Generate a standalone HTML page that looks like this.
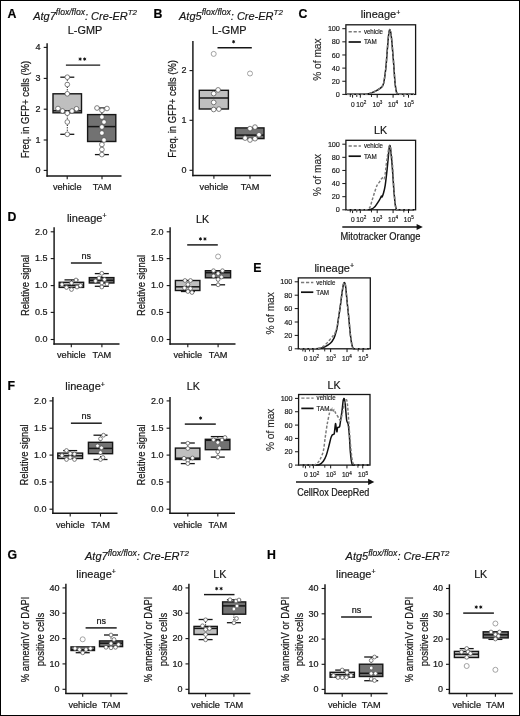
<!DOCTYPE html>
<html><head><meta charset="utf-8"><title>Figure</title>
<style>
html,body{margin:0;padding:0;background:#fff;}
body{width:520px;height:716px;overflow:hidden;}
svg{display:block;font-family:"Liberation Sans",sans-serif;filter:blur(0.35px);}
text{stroke:#1a1a1a;stroke-width:0.22px;}
text.sm{stroke-width:0.17px;}
text.tt{stroke-width:0.18px;}
text.md{stroke-width:0.15px;fill:#2a2a2a;}
</style></head>
<body>
<svg width="520" height="716" viewBox="0 0 520 716">
<rect x="0" y="0" width="520" height="716" fill="#fff"/>
<rect x="0.5" y="0.5" width="519" height="715" fill="none" stroke="#000" stroke-width="1"/>
<text x="7.6" y="17.6" font-size="12.3" text-anchor="start" fill="#000" font-weight="bold" >A</text>
<text class="tt" x="33.2" y="19.5" font-size="11" font-style="italic" fill="#161616">Atg7<tspan font-size="8.6" dy="-4.3">flox/flox</tspan><tspan dy="4.3">: Cre-ER</tspan><tspan font-size="7.9" dy="-4.3">T2</tspan></text>
<text x="85" y="33.5" font-size="10.9" text-anchor="middle" fill="#161616" class="tt">L-GMP</text>
<line x1="47.1" y1="43.2" x2="47.1" y2="176.65" stroke="#161616" stroke-width="1.45" />
<line x1="43.7" y1="47.4" x2="47.1" y2="47.4" stroke="#161616" stroke-width="1.1" />
<text x="40.6" y="50.1" font-size="9" text-anchor="end" fill="#161616" >4</text>
<line x1="43.7" y1="78.4" x2="47.1" y2="78.4" stroke="#161616" stroke-width="1.1" />
<text x="40.6" y="81.1" font-size="9" text-anchor="end" fill="#161616" >3</text>
<line x1="43.7" y1="109.2" x2="47.1" y2="109.2" stroke="#161616" stroke-width="1.1" />
<text x="40.6" y="111.9" font-size="9" text-anchor="end" fill="#161616" >2</text>
<line x1="43.7" y1="140" x2="47.1" y2="140" stroke="#161616" stroke-width="1.1" />
<text x="40.6" y="142.7" font-size="9" text-anchor="end" fill="#161616" >1</text>
<line x1="43.7" y1="170.4" x2="47.1" y2="170.4" stroke="#161616" stroke-width="1.1" />
<text x="40.6" y="173.1" font-size="9" text-anchor="end" fill="#161616" >0</text>
<line x1="46.45" y1="176" x2="121.5" y2="176" stroke="#161616" stroke-width="1.45" />
<line x1="67.2" y1="176" x2="67.2" y2="179.3" stroke="#161616" stroke-width="1.1" />
<text x="67.2" y="190.3" font-size="9.2" text-anchor="middle" fill="#161616" >vehicle</text>
<line x1="102" y1="176" x2="102" y2="179.3" stroke="#161616" stroke-width="1.1" />
<text x="102" y="190.3" font-size="9.2" text-anchor="middle" fill="#161616" >TAM</text>
<text transform="translate(29.4,109.6) rotate(-90)" x="0" y="0" font-size="10.2" text-anchor="middle" fill="#161616" textLength="97.5" lengthAdjust="spacingAndGlyphs">Freq. in GFP+ cells (%)</text>
<line x1="65.9" y1="65.1" x2="100.2" y2="65.1" stroke="#161616" stroke-width="1.45" />
<circle cx="80.15" cy="59.1" r="0.9" fill="#111"/>
<path d="M80.15,57.4 V60.8 M78.65,58.25 L81.65,59.95 M78.65,59.95 L81.65,58.25" stroke="#111" stroke-width="0.85" fill="none"/>
<circle cx="84.65" cy="59.1" r="0.9" fill="#111"/>
<path d="M84.65,57.4 V60.8 M83.15,58.25 L86.15,59.95 M83.15,59.95 L86.15,58.25" stroke="#111" stroke-width="0.85" fill="none"/>
<line x1="67.3" y1="77.2" x2="67.3" y2="93.8" stroke="#161616" stroke-width="1.0" stroke-dasharray="1.2,1.2" />
<line x1="60.3" y1="77.2" x2="74.3" y2="77.2" stroke="#161616" stroke-width="1.3" />
<line x1="67.3" y1="112.8" x2="67.3" y2="134.3" stroke="#161616" stroke-width="1.0" stroke-dasharray="1.2,1.2" />
<line x1="60.3" y1="134.3" x2="74.3" y2="134.3" stroke="#161616" stroke-width="1.3" />
<rect x="53" y="93.8" width="28.5" height="19" fill="#bfbfbf" stroke="#161616" stroke-width="1.4"/>
<line x1="53" y1="110.8" x2="81.5" y2="110.8" stroke="#161616" stroke-width="1.5" />
<circle cx="67.3" cy="77.2" r="2.35" fill="#fff" stroke="#555" stroke-width="0.75"/>
<circle cx="67.3" cy="84.5" r="2.35" fill="#fff" stroke="#555" stroke-width="0.75"/>
<circle cx="67.3" cy="93.8" r="2.35" fill="#fff" stroke="#555" stroke-width="0.75"/>
<circle cx="58" cy="108.5" r="2.35" fill="#fff" stroke="#555" stroke-width="0.75"/>
<circle cx="62.5" cy="111" r="2.35" fill="#fff" stroke="#555" stroke-width="0.75"/>
<circle cx="67.3" cy="113.2" r="2.35" fill="#fff" stroke="#555" stroke-width="0.75"/>
<circle cx="72" cy="111" r="2.35" fill="#fff" stroke="#555" stroke-width="0.75"/>
<circle cx="76.5" cy="108.8" r="2.35" fill="#fff" stroke="#555" stroke-width="0.75"/>
<circle cx="67.3" cy="122" r="2.35" fill="#fff" stroke="#555" stroke-width="0.75"/>
<circle cx="67.3" cy="134.3" r="2.35" fill="#fff" stroke="#555" stroke-width="0.75"/>
<line x1="101.9" y1="108" x2="101.9" y2="114.6" stroke="#161616" stroke-width="1.0" stroke-dasharray="1.2,1.2" />
<line x1="94.9" y1="108" x2="108.9" y2="108" stroke="#161616" stroke-width="1.3" />
<line x1="101.9" y1="141.5" x2="101.9" y2="154.6" stroke="#161616" stroke-width="1.0" stroke-dasharray="1.2,1.2" />
<line x1="94.9" y1="154.6" x2="108.9" y2="154.6" stroke="#161616" stroke-width="1.3" />
<rect x="87.6" y="114.6" width="28.2" height="26.9" fill="#727272" stroke="#161616" stroke-width="1.4"/>
<line x1="87.6" y1="126.6" x2="115.8" y2="126.6" stroke="#161616" stroke-width="1.5" />
<circle cx="97" cy="108" r="2.35" fill="#fff" stroke="#555" stroke-width="0.75"/>
<circle cx="102" cy="110.3" r="2.35" fill="#fff" stroke="#555" stroke-width="0.75"/>
<circle cx="107" cy="108.5" r="2.35" fill="#fff" stroke="#555" stroke-width="0.75"/>
<circle cx="101.9" cy="117" r="2.35" fill="#fff" stroke="#555" stroke-width="0.75"/>
<circle cx="104" cy="122" r="2.35" fill="#fff" stroke="#555" stroke-width="0.75"/>
<circle cx="101.9" cy="127" r="2.35" fill="#fff" stroke="#555" stroke-width="0.75"/>
<circle cx="101.9" cy="133" r="2.35" fill="#fff" stroke="#555" stroke-width="0.75"/>
<circle cx="104" cy="140" r="2.35" fill="#fff" stroke="#555" stroke-width="0.75"/>
<circle cx="101.9" cy="144.5" r="2.35" fill="#fff" stroke="#555" stroke-width="0.75"/>
<circle cx="101.9" cy="149.5" r="2.35" fill="#fff" stroke="#555" stroke-width="0.75"/>
<circle cx="101.9" cy="154.6" r="2.35" fill="#fff" stroke="#555" stroke-width="0.75"/>
<text x="153.6" y="17.6" font-size="12.3" text-anchor="start" fill="#000" font-weight="bold" >B</text>
<text class="tt" x="179" y="19.5" font-size="11" font-style="italic" fill="#161616">Atg5<tspan font-size="8.6" dy="-4.3">flox/flox</tspan><tspan dy="4.3">: Cre-ER</tspan><tspan font-size="7.9" dy="-4.3">T2</tspan></text>
<text x="229.3" y="33.5" font-size="10.9" text-anchor="middle" fill="#161616" class="tt">L-GMP</text>
<line x1="192.9" y1="41" x2="192.9" y2="176.15" stroke="#161616" stroke-width="1.45" />
<line x1="189.5" y1="70.6" x2="192.9" y2="70.6" stroke="#161616" stroke-width="1.1" />
<text x="186.4" y="73.3" font-size="9" text-anchor="end" fill="#161616" >2</text>
<line x1="189.5" y1="120.3" x2="192.9" y2="120.3" stroke="#161616" stroke-width="1.1" />
<text x="186.4" y="123" font-size="9" text-anchor="end" fill="#161616" >1</text>
<line x1="189.5" y1="170.3" x2="192.9" y2="170.3" stroke="#161616" stroke-width="1.1" />
<text x="186.4" y="173" font-size="9" text-anchor="end" fill="#161616" >0</text>
<line x1="192.25" y1="175.5" x2="271" y2="175.5" stroke="#161616" stroke-width="1.45" />
<line x1="213.9" y1="175.5" x2="213.9" y2="178.8" stroke="#161616" stroke-width="1.1" />
<text x="213.9" y="190.3" font-size="9.2" text-anchor="middle" fill="#161616" >vehicle</text>
<line x1="250" y1="175.5" x2="250" y2="178.8" stroke="#161616" stroke-width="1.1" />
<text x="250" y="190.3" font-size="9.2" text-anchor="middle" fill="#161616" >TAM</text>
<text transform="translate(175.9,108.9) rotate(-90)" x="0" y="0" font-size="10.2" text-anchor="middle" fill="#161616" textLength="97.5" lengthAdjust="spacingAndGlyphs">Freq. in GFP+ cells (%)</text>
<line x1="217.5" y1="47.7" x2="251.8" y2="47.7" stroke="#161616" stroke-width="1.45" />
<circle cx="233.6" cy="41.7" r="0.9" fill="#111"/>
<path d="M233.6,40 V43.4 M232.1,40.85 L235.1,42.55 M232.1,42.55 L235.1,40.85" stroke="#111" stroke-width="0.85" fill="none"/>
<rect x="199.3" y="90.3" width="29.1" height="18.7" fill="#bfbfbf" stroke="#161616" stroke-width="1.4"/>
<line x1="199.3" y1="98" x2="228.4" y2="98" stroke="#161616" stroke-width="1.5" />
<circle cx="213.7" cy="53.9" r="2.5" fill="none" stroke="#999" stroke-width="0.9"/>
<circle cx="218.1" cy="89.9" r="2.35" fill="#fff" stroke="#555" stroke-width="0.75"/>
<circle cx="213.7" cy="93.6" r="2.35" fill="#fff" stroke="#555" stroke-width="0.75"/>
<circle cx="213.7" cy="102.4" r="2.35" fill="#fff" stroke="#555" stroke-width="0.75"/>
<circle cx="213.7" cy="109.5" r="2.35" fill="#fff" stroke="#555" stroke-width="0.75"/>
<circle cx="218.9" cy="109.1" r="2.35" fill="#fff" stroke="#555" stroke-width="0.75"/>
<rect x="235.4" y="127.9" width="28.6" height="10.7" fill="#727272" stroke="#161616" stroke-width="1.4"/>
<line x1="235.4" y1="135.1" x2="264" y2="135.1" stroke="#161616" stroke-width="1.5" />
<circle cx="250" cy="73.5" r="2.5" fill="none" stroke="#999" stroke-width="0.9"/>
<circle cx="250" cy="128.6" r="2.35" fill="#fff" stroke="#555" stroke-width="0.75"/>
<circle cx="255" cy="127.1" r="2.35" fill="#fff" stroke="#555" stroke-width="0.75"/>
<circle cx="259" cy="134.8" r="2.35" fill="#fff" stroke="#555" stroke-width="0.75"/>
<circle cx="245.1" cy="138.1" r="2.35" fill="#fff" stroke="#555" stroke-width="0.75"/>
<circle cx="250" cy="140" r="2.35" fill="#fff" stroke="#555" stroke-width="0.75"/>
<circle cx="255" cy="138.7" r="2.35" fill="#fff" stroke="#555" stroke-width="0.75"/>
<text x="7.6" y="220.6" font-size="12.3" text-anchor="start" fill="#000" font-weight="bold" >D</text>
<text class="tt" x="86.7" y="222" font-size="11" text-anchor="middle" fill="#161616">lineage<tspan font-size="7" dy="-3.7">+</tspan></text>
<text x="202.5" y="222.5" font-size="10.7" text-anchor="middle" fill="#161616" class="tt">LK</text>
<line x1="54.1" y1="227.2" x2="54.1" y2="344.65" stroke="#161616" stroke-width="1.45" />
<line x1="50.7" y1="231.8" x2="54.1" y2="231.8" stroke="#161616" stroke-width="1.1" />
<text x="47.6" y="234.5" font-size="9" text-anchor="end" fill="#161616" >2.0</text>
<line x1="50.7" y1="258.6" x2="54.1" y2="258.6" stroke="#161616" stroke-width="1.1" />
<text x="47.6" y="261.3" font-size="9" text-anchor="end" fill="#161616" >1.5</text>
<line x1="50.7" y1="285.6" x2="54.1" y2="285.6" stroke="#161616" stroke-width="1.1" />
<text x="47.6" y="288.3" font-size="9" text-anchor="end" fill="#161616" >1.0</text>
<line x1="50.7" y1="312.4" x2="54.1" y2="312.4" stroke="#161616" stroke-width="1.1" />
<text x="47.6" y="315.1" font-size="9" text-anchor="end" fill="#161616" >0.5</text>
<line x1="50.7" y1="339.5" x2="54.1" y2="339.5" stroke="#161616" stroke-width="1.1" />
<text x="47.6" y="342.2" font-size="9" text-anchor="end" fill="#161616" >0.0</text>
<line x1="53.45" y1="344" x2="119.5" y2="344" stroke="#161616" stroke-width="1.45" />
<line x1="71.3" y1="344" x2="71.3" y2="347.3" stroke="#161616" stroke-width="1.1" />
<text x="71.3" y="358.2" font-size="9.2" text-anchor="middle" fill="#161616" >vehicle</text>
<line x1="101.9" y1="344" x2="101.9" y2="347.3" stroke="#161616" stroke-width="1.1" />
<text x="101.9" y="358.2" font-size="9.2" text-anchor="middle" fill="#161616" >TAM</text>
<text transform="translate(28.9,285.5) rotate(-90)" x="0" y="0" font-size="10.1" text-anchor="middle" fill="#161616" textLength="61" lengthAdjust="spacingAndGlyphs">Relative signal</text>
<line x1="170.1" y1="227.2" x2="170.1" y2="344.65" stroke="#161616" stroke-width="1.45" />
<line x1="166.7" y1="231.8" x2="170.1" y2="231.8" stroke="#161616" stroke-width="1.1" />
<text x="163.6" y="234.5" font-size="9" text-anchor="end" fill="#161616" >2.0</text>
<line x1="166.7" y1="258.6" x2="170.1" y2="258.6" stroke="#161616" stroke-width="1.1" />
<text x="163.6" y="261.3" font-size="9" text-anchor="end" fill="#161616" >1.5</text>
<line x1="166.7" y1="285.6" x2="170.1" y2="285.6" stroke="#161616" stroke-width="1.1" />
<text x="163.6" y="288.3" font-size="9" text-anchor="end" fill="#161616" >1.0</text>
<line x1="166.7" y1="312.4" x2="170.1" y2="312.4" stroke="#161616" stroke-width="1.1" />
<text x="163.6" y="315.1" font-size="9" text-anchor="end" fill="#161616" >0.5</text>
<line x1="166.7" y1="339.5" x2="170.1" y2="339.5" stroke="#161616" stroke-width="1.1" />
<text x="163.6" y="342.2" font-size="9" text-anchor="end" fill="#161616" >0.0</text>
<line x1="169.45" y1="344" x2="235.5" y2="344" stroke="#161616" stroke-width="1.45" />
<line x1="187.8" y1="344" x2="187.8" y2="347.3" stroke="#161616" stroke-width="1.1" />
<text x="187.8" y="358.2" font-size="9.2" text-anchor="middle" fill="#161616" >vehicle</text>
<line x1="218.1" y1="344" x2="218.1" y2="347.3" stroke="#161616" stroke-width="1.1" />
<text x="218.1" y="358.2" font-size="9.2" text-anchor="middle" fill="#161616" >TAM</text>
<text transform="translate(145,285.5) rotate(-90)" x="0" y="0" font-size="10.1" text-anchor="middle" fill="#161616" textLength="61" lengthAdjust="spacingAndGlyphs">Relative signal</text>
<line x1="70.9" y1="263" x2="101.8" y2="263" stroke="#161616" stroke-width="1.45" />
<text x="86.35" y="258.8" font-size="9" text-anchor="middle" fill="#161616" >ns</text>
<line x1="71.5" y1="279.9" x2="71.5" y2="282.3" stroke="#161616" stroke-width="1.0" stroke-dasharray="1.2,1.2" />
<line x1="64.5" y1="279.9" x2="78.5" y2="279.9" stroke="#161616" stroke-width="1.3" />
<rect x="59.2" y="282.3" width="24.4" height="5.1" fill="#bfbfbf" stroke="#161616" stroke-width="1.4"/>
<line x1="59.2" y1="285.3" x2="83.6" y2="285.3" stroke="#161616" stroke-width="1.5" />
<circle cx="76" cy="280" r="1.9" fill="#fff" stroke="#555" stroke-width="0.75"/>
<circle cx="71.5" cy="283" r="1.9" fill="#fff" stroke="#555" stroke-width="0.75"/>
<circle cx="62" cy="284.5" r="1.9" fill="#fff" stroke="#555" stroke-width="0.75"/>
<circle cx="66.5" cy="287.5" r="1.9" fill="#fff" stroke="#555" stroke-width="0.75"/>
<circle cx="71.5" cy="289.5" r="1.9" fill="#fff" stroke="#555" stroke-width="0.75"/>
<circle cx="77" cy="287" r="1.9" fill="#fff" stroke="#555" stroke-width="0.75"/>
<circle cx="80.5" cy="285.5" r="1.9" fill="#fff" stroke="#555" stroke-width="0.75"/>
<line x1="101.8" y1="273.6" x2="101.8" y2="277.6" stroke="#161616" stroke-width="1.0" stroke-dasharray="1.2,1.2" />
<line x1="94.8" y1="273.6" x2="108.8" y2="273.6" stroke="#161616" stroke-width="1.3" />
<line x1="101.8" y1="283" x2="101.8" y2="286.3" stroke="#161616" stroke-width="1.0" stroke-dasharray="1.2,1.2" />
<line x1="94.8" y1="286.3" x2="108.8" y2="286.3" stroke="#161616" stroke-width="1.3" />
<rect x="89.3" y="277.6" width="24.6" height="5.4" fill="#727272" stroke="#161616" stroke-width="1.4"/>
<line x1="89.3" y1="280.3" x2="113.9" y2="280.3" stroke="#161616" stroke-width="1.5" />
<circle cx="101.8" cy="273.3" r="1.9" fill="#fff" stroke="#555" stroke-width="0.75"/>
<circle cx="99" cy="278" r="1.9" fill="#fff" stroke="#555" stroke-width="0.75"/>
<circle cx="104.5" cy="279.5" r="1.9" fill="#fff" stroke="#555" stroke-width="0.75"/>
<circle cx="95.5" cy="281" r="1.9" fill="#fff" stroke="#555" stroke-width="0.75"/>
<circle cx="101.8" cy="283" r="1.9" fill="#fff" stroke="#555" stroke-width="0.75"/>
<circle cx="107" cy="284" r="1.9" fill="#fff" stroke="#555" stroke-width="0.75"/>
<circle cx="101.8" cy="287" r="1.9" fill="#fff" stroke="#555" stroke-width="0.75"/>
<line x1="187.2" y1="244.9" x2="217.8" y2="244.9" stroke="#161616" stroke-width="1.45" />
<circle cx="200.45" cy="238.9" r="0.9" fill="#111"/>
<path d="M200.45,237.2 V240.6 M198.95,238.05 L201.95,239.75 M198.95,239.75 L201.95,238.05" stroke="#111" stroke-width="0.85" fill="none"/>
<circle cx="204.95" cy="238.9" r="0.9" fill="#111"/>
<path d="M204.95,237.2 V240.6 M203.45,238.05 L206.45,239.75 M203.45,239.75 L206.45,238.05" stroke="#111" stroke-width="0.85" fill="none"/>
<line x1="187.9" y1="290.5" x2="187.9" y2="291.5" stroke="#161616" stroke-width="1.0" stroke-dasharray="1.2,1.2" />
<line x1="180.9" y1="291.5" x2="194.9" y2="291.5" stroke="#161616" stroke-width="1.3" />
<rect x="175.4" y="280.5" width="24.5" height="10" fill="#bfbfbf" stroke="#161616" stroke-width="1.4"/>
<line x1="175.4" y1="286.8" x2="199.9" y2="286.8" stroke="#161616" stroke-width="1.5" />
<circle cx="185" cy="280.5" r="1.9" fill="#fff" stroke="#555" stroke-width="0.75"/>
<circle cx="190.5" cy="280.5" r="1.9" fill="#fff" stroke="#555" stroke-width="0.75"/>
<circle cx="187.9" cy="284.5" r="1.9" fill="#fff" stroke="#555" stroke-width="0.75"/>
<circle cx="184.5" cy="288" r="1.9" fill="#fff" stroke="#555" stroke-width="0.75"/>
<circle cx="190.5" cy="288.5" r="1.9" fill="#fff" stroke="#555" stroke-width="0.75"/>
<circle cx="187.9" cy="291.5" r="1.9" fill="#fff" stroke="#555" stroke-width="0.75"/>
<circle cx="192" cy="292.5" r="1.9" fill="#fff" stroke="#555" stroke-width="0.75"/>
<line x1="218.1" y1="277.8" x2="218.1" y2="284.8" stroke="#161616" stroke-width="1.0" stroke-dasharray="1.2,1.2" />
<line x1="211.1" y1="284.8" x2="225.1" y2="284.8" stroke="#161616" stroke-width="1.3" />
<rect x="205.4" y="270.7" width="25.2" height="7.1" fill="#727272" stroke="#161616" stroke-width="1.4"/>
<line x1="205.4" y1="272.7" x2="230.6" y2="272.7" stroke="#161616" stroke-width="1.5" />
<circle cx="218.1" cy="256.5" r="2.5" fill="none" stroke="#999" stroke-width="0.9"/>
<circle cx="213.5" cy="270.7" r="1.9" fill="#fff" stroke="#555" stroke-width="0.75"/>
<circle cx="222.5" cy="270.7" r="1.9" fill="#fff" stroke="#555" stroke-width="0.75"/>
<circle cx="218.1" cy="273.5" r="1.9" fill="#fff" stroke="#555" stroke-width="0.75"/>
<circle cx="213.5" cy="276" r="1.9" fill="#fff" stroke="#555" stroke-width="0.75"/>
<circle cx="221.5" cy="277" r="1.9" fill="#fff" stroke="#555" stroke-width="0.75"/>
<circle cx="218.1" cy="279.5" r="1.9" fill="#fff" stroke="#555" stroke-width="0.75"/>
<circle cx="218.1" cy="284.8" r="1.9" fill="#fff" stroke="#555" stroke-width="0.75"/>
<text x="7.6" y="389.6" font-size="12.3" text-anchor="start" fill="#000" font-weight="bold" >F</text>
<text class="tt" x="85.1" y="390.4" font-size="11" text-anchor="middle" fill="#161616">lineage<tspan font-size="7" dy="-3.7">+</tspan></text>
<text x="193.3" y="390.2" font-size="10.7" text-anchor="middle" fill="#161616" class="tt">LK</text>
<line x1="52.9" y1="396.9" x2="52.9" y2="513.95" stroke="#161616" stroke-width="1.45" />
<line x1="49.5" y1="400.9" x2="52.9" y2="400.9" stroke="#161616" stroke-width="1.1" />
<text x="46.4" y="403.6" font-size="9" text-anchor="end" fill="#161616" >2.0</text>
<line x1="49.5" y1="428.2" x2="52.9" y2="428.2" stroke="#161616" stroke-width="1.1" />
<text x="46.4" y="430.9" font-size="9" text-anchor="end" fill="#161616" >1.5</text>
<line x1="49.5" y1="455.1" x2="52.9" y2="455.1" stroke="#161616" stroke-width="1.1" />
<text x="46.4" y="457.8" font-size="9" text-anchor="end" fill="#161616" >1.0</text>
<line x1="49.5" y1="482" x2="52.9" y2="482" stroke="#161616" stroke-width="1.1" />
<text x="46.4" y="484.7" font-size="9" text-anchor="end" fill="#161616" >0.5</text>
<line x1="49.5" y1="509.2" x2="52.9" y2="509.2" stroke="#161616" stroke-width="1.1" />
<text x="46.4" y="511.9" font-size="9" text-anchor="end" fill="#161616" >0.0</text>
<line x1="52.25" y1="513.3" x2="117.5" y2="513.3" stroke="#161616" stroke-width="1.45" />
<line x1="70.2" y1="513.3" x2="70.2" y2="516.6" stroke="#161616" stroke-width="1.1" />
<text x="70.2" y="527.9" font-size="9.2" text-anchor="middle" fill="#161616" >vehicle</text>
<line x1="100.5" y1="513.3" x2="100.5" y2="516.6" stroke="#161616" stroke-width="1.1" />
<text x="100.5" y="527.9" font-size="9.2" text-anchor="middle" fill="#161616" >TAM</text>
<text transform="translate(28.3,455) rotate(-90)" x="0" y="0" font-size="10.1" text-anchor="middle" fill="#161616" textLength="61" lengthAdjust="spacingAndGlyphs">Relative signal</text>
<line x1="170" y1="396.9" x2="170" y2="513.95" stroke="#161616" stroke-width="1.45" />
<line x1="166.6" y1="400.9" x2="170" y2="400.9" stroke="#161616" stroke-width="1.1" />
<text x="163.5" y="403.6" font-size="9" text-anchor="end" fill="#161616" >2.0</text>
<line x1="166.6" y1="428.2" x2="170" y2="428.2" stroke="#161616" stroke-width="1.1" />
<text x="163.5" y="430.9" font-size="9" text-anchor="end" fill="#161616" >1.5</text>
<line x1="166.6" y1="455.1" x2="170" y2="455.1" stroke="#161616" stroke-width="1.1" />
<text x="163.5" y="457.8" font-size="9" text-anchor="end" fill="#161616" >1.0</text>
<line x1="166.6" y1="482" x2="170" y2="482" stroke="#161616" stroke-width="1.1" />
<text x="163.5" y="484.7" font-size="9" text-anchor="end" fill="#161616" >0.5</text>
<line x1="166.6" y1="509.2" x2="170" y2="509.2" stroke="#161616" stroke-width="1.1" />
<text x="163.5" y="511.9" font-size="9" text-anchor="end" fill="#161616" >0.0</text>
<line x1="169.35" y1="513.3" x2="235" y2="513.3" stroke="#161616" stroke-width="1.45" />
<line x1="187.8" y1="513.3" x2="187.8" y2="516.6" stroke="#161616" stroke-width="1.1" />
<text x="187.8" y="527.9" font-size="9.2" text-anchor="middle" fill="#161616" >vehicle</text>
<line x1="217.8" y1="513.3" x2="217.8" y2="516.6" stroke="#161616" stroke-width="1.1" />
<text x="217.8" y="527.9" font-size="9.2" text-anchor="middle" fill="#161616" >TAM</text>
<text transform="translate(145,455) rotate(-90)" x="0" y="0" font-size="10.1" text-anchor="middle" fill="#161616" textLength="61" lengthAdjust="spacingAndGlyphs">Relative signal</text>
<line x1="70.9" y1="423.2" x2="101.8" y2="423.2" stroke="#161616" stroke-width="1.45" />
<text x="86.35" y="418.8" font-size="9" text-anchor="middle" fill="#161616" >ns</text>
<line x1="70.2" y1="450.6" x2="70.2" y2="453.1" stroke="#161616" stroke-width="1.0" stroke-dasharray="1.2,1.2" />
<line x1="63.2" y1="450.6" x2="77.2" y2="450.6" stroke="#161616" stroke-width="1.3" />
<rect x="57.8" y="453.1" width="24.8" height="5.4" fill="#bfbfbf" stroke="#161616" stroke-width="1.4"/>
<line x1="57.8" y1="455.8" x2="82.6" y2="455.8" stroke="#161616" stroke-width="1.5" />
<circle cx="66.5" cy="450.5" r="1.9" fill="#fff" stroke="#555" stroke-width="0.75"/>
<circle cx="70.2" cy="453.5" r="1.9" fill="#fff" stroke="#555" stroke-width="0.75"/>
<circle cx="74.5" cy="454" r="1.9" fill="#fff" stroke="#555" stroke-width="0.75"/>
<circle cx="62" cy="455.5" r="1.9" fill="#fff" stroke="#555" stroke-width="0.75"/>
<circle cx="70.2" cy="457.5" r="1.9" fill="#fff" stroke="#555" stroke-width="0.75"/>
<circle cx="66.5" cy="459.5" r="1.9" fill="#fff" stroke="#555" stroke-width="0.75"/>
<circle cx="74.5" cy="459.5" r="1.9" fill="#fff" stroke="#555" stroke-width="0.75"/>
<line x1="100.5" y1="435.2" x2="100.5" y2="442.3" stroke="#161616" stroke-width="1.0" stroke-dasharray="1.2,1.2" />
<line x1="93.5" y1="435.2" x2="107.5" y2="435.2" stroke="#161616" stroke-width="1.3" />
<line x1="100.5" y1="453.7" x2="100.5" y2="459.5" stroke="#161616" stroke-width="1.0" stroke-dasharray="1.2,1.2" />
<line x1="93.5" y1="459.5" x2="107.5" y2="459.5" stroke="#161616" stroke-width="1.3" />
<rect x="88.4" y="442.3" width="24.2" height="11.4" fill="#727272" stroke="#161616" stroke-width="1.4"/>
<line x1="88.4" y1="448.4" x2="112.6" y2="448.4" stroke="#161616" stroke-width="1.5" />
<circle cx="103.5" cy="435.2" r="1.9" fill="#fff" stroke="#555" stroke-width="0.75"/>
<circle cx="100.5" cy="438.8" r="1.9" fill="#fff" stroke="#555" stroke-width="0.75"/>
<circle cx="97.5" cy="445.8" r="1.9" fill="#fff" stroke="#555" stroke-width="0.75"/>
<circle cx="101.5" cy="447.8" r="1.9" fill="#fff" stroke="#555" stroke-width="0.75"/>
<circle cx="100.5" cy="452.5" r="1.9" fill="#fff" stroke="#555" stroke-width="0.75"/>
<circle cx="100.5" cy="459.5" r="1.9" fill="#fff" stroke="#555" stroke-width="0.75"/>
<circle cx="103" cy="457.5" r="1.9" fill="#fff" stroke="#555" stroke-width="0.75"/>
<line x1="184.8" y1="424.1" x2="215.8" y2="424.1" stroke="#161616" stroke-width="1.45" />
<circle cx="200.6" cy="418.1" r="0.9" fill="#111"/>
<path d="M200.6,416.4 V419.8 M199.1,417.25 L202.1,418.95 M199.1,418.95 L202.1,417.25" stroke="#111" stroke-width="0.85" fill="none"/>
<line x1="187.8" y1="443" x2="187.8" y2="448.1" stroke="#161616" stroke-width="1.0" stroke-dasharray="1.2,1.2" />
<line x1="180.8" y1="443" x2="194.8" y2="443" stroke="#161616" stroke-width="1.3" />
<line x1="187.8" y1="459.5" x2="187.8" y2="463.6" stroke="#161616" stroke-width="1.0" stroke-dasharray="1.2,1.2" />
<line x1="180.8" y1="463.6" x2="194.8" y2="463.6" stroke="#161616" stroke-width="1.3" />
<rect x="175.4" y="448.1" width="24.5" height="11.4" fill="#bfbfbf" stroke="#161616" stroke-width="1.4"/>
<line x1="175.4" y1="458.2" x2="199.9" y2="458.2" stroke="#161616" stroke-width="1.5" />
<circle cx="187.8" cy="443.2" r="1.9" fill="#fff" stroke="#555" stroke-width="0.75"/>
<circle cx="187.8" cy="448.5" r="1.9" fill="#fff" stroke="#555" stroke-width="0.75"/>
<circle cx="184" cy="458.3" r="1.9" fill="#fff" stroke="#555" stroke-width="0.75"/>
<circle cx="187.8" cy="460.5" r="1.9" fill="#fff" stroke="#555" stroke-width="0.75"/>
<circle cx="192.5" cy="458" r="1.9" fill="#fff" stroke="#555" stroke-width="0.75"/>
<circle cx="187.8" cy="463.6" r="1.9" fill="#fff" stroke="#555" stroke-width="0.75"/>
<line x1="217.8" y1="436.6" x2="217.8" y2="439.3" stroke="#161616" stroke-width="1.0" stroke-dasharray="1.2,1.2" />
<line x1="210.8" y1="436.6" x2="224.8" y2="436.6" stroke="#161616" stroke-width="1.3" />
<line x1="217.8" y1="449.7" x2="217.8" y2="457.1" stroke="#161616" stroke-width="1.0" stroke-dasharray="1.2,1.2" />
<line x1="210.8" y1="457.1" x2="224.8" y2="457.1" stroke="#161616" stroke-width="1.3" />
<rect x="205.3" y="439.3" width="24.6" height="10.4" fill="#727272" stroke="#161616" stroke-width="1.4"/>
<line x1="205.3" y1="440.3" x2="229.9" y2="440.3" stroke="#161616" stroke-width="1.5" />
<circle cx="213.5" cy="439.8" r="1.9" fill="#fff" stroke="#555" stroke-width="0.75"/>
<circle cx="217.8" cy="442.5" r="1.9" fill="#fff" stroke="#555" stroke-width="0.75"/>
<circle cx="222" cy="440" r="1.9" fill="#fff" stroke="#555" stroke-width="0.75"/>
<circle cx="225" cy="437.5" r="1.9" fill="#fff" stroke="#555" stroke-width="0.75"/>
<circle cx="219.5" cy="448" r="1.9" fill="#fff" stroke="#555" stroke-width="0.75"/>
<circle cx="217.8" cy="451.8" r="1.9" fill="#fff" stroke="#555" stroke-width="0.75"/>
<circle cx="217.8" cy="457.1" r="1.9" fill="#fff" stroke="#555" stroke-width="0.75"/>
<text x="7.6" y="559.4" font-size="12.3" text-anchor="start" fill="#000" font-weight="bold" >G</text>
<text class="tt" x="85" y="560.4" font-size="11" font-style="italic" fill="#161616">Atg7<tspan font-size="8.6" dy="-4.3">flox/flox</tspan><tspan dy="4.3">: Cre-ER</tspan><tspan font-size="7.9" dy="-4.3">T2</tspan></text>
<text class="tt" x="96.1" y="578" font-size="11" text-anchor="middle" fill="#161616">lineage<tspan font-size="7" dy="-3.7">+</tspan></text>
<text x="219.8" y="577.8" font-size="10.7" text-anchor="middle" fill="#161616" class="tt">LK</text>
<line x1="65.9" y1="583.8" x2="65.9" y2="694.05" stroke="#161616" stroke-width="1.45" />
<line x1="62.5" y1="587.9" x2="65.9" y2="587.9" stroke="#161616" stroke-width="1.1" />
<text x="59.4" y="590.6" font-size="9" text-anchor="end" fill="#161616" >40</text>
<line x1="62.5" y1="613.2" x2="65.9" y2="613.2" stroke="#161616" stroke-width="1.1" />
<text x="59.4" y="615.9" font-size="9" text-anchor="end" fill="#161616" >30</text>
<line x1="62.5" y1="638.6" x2="65.9" y2="638.6" stroke="#161616" stroke-width="1.1" />
<text x="59.4" y="641.3" font-size="9" text-anchor="end" fill="#161616" >20</text>
<line x1="62.5" y1="663.9" x2="65.9" y2="663.9" stroke="#161616" stroke-width="1.1" />
<text x="59.4" y="666.6" font-size="9" text-anchor="end" fill="#161616" >10</text>
<line x1="62.5" y1="689.3" x2="65.9" y2="689.3" stroke="#161616" stroke-width="1.1" />
<text x="59.4" y="692" font-size="9" text-anchor="end" fill="#161616" >0</text>
<line x1="65.25" y1="693.4" x2="127.5" y2="693.4" stroke="#161616" stroke-width="1.45" />
<line x1="82.7" y1="693.4" x2="82.7" y2="696.7" stroke="#161616" stroke-width="1.1" />
<text x="82.7" y="708.4" font-size="9.2" text-anchor="middle" fill="#161616" >vehicle</text>
<line x1="111" y1="693.4" x2="111" y2="696.7" stroke="#161616" stroke-width="1.1" />
<text x="111" y="708.4" font-size="9.2" text-anchor="middle" fill="#161616" >TAM</text>
<text transform="translate(29.4,639.5) rotate(-90)" x="0" y="0" font-size="10.1" text-anchor="middle" fill="#161616" textLength="85.5" lengthAdjust="spacingAndGlyphs">% annexinV or DAPI</text>
<text transform="translate(44.2,639.5) rotate(-90)" x="0" y="0" font-size="10.1" text-anchor="middle" fill="#161616" textLength="53.5" lengthAdjust="spacingAndGlyphs">positive cells</text>
<line x1="188.9" y1="583.8" x2="188.9" y2="694.05" stroke="#161616" stroke-width="1.45" />
<line x1="185.5" y1="587.9" x2="188.9" y2="587.9" stroke="#161616" stroke-width="1.1" />
<text x="182.4" y="590.6" font-size="9" text-anchor="end" fill="#161616" >40</text>
<line x1="185.5" y1="613.2" x2="188.9" y2="613.2" stroke="#161616" stroke-width="1.1" />
<text x="182.4" y="615.9" font-size="9" text-anchor="end" fill="#161616" >30</text>
<line x1="185.5" y1="638.6" x2="188.9" y2="638.6" stroke="#161616" stroke-width="1.1" />
<text x="182.4" y="641.3" font-size="9" text-anchor="end" fill="#161616" >20</text>
<line x1="185.5" y1="663.9" x2="188.9" y2="663.9" stroke="#161616" stroke-width="1.1" />
<text x="182.4" y="666.6" font-size="9" text-anchor="end" fill="#161616" >10</text>
<line x1="185.5" y1="689.3" x2="188.9" y2="689.3" stroke="#161616" stroke-width="1.1" />
<text x="182.4" y="692" font-size="9" text-anchor="end" fill="#161616" >0</text>
<line x1="188.25" y1="693.4" x2="250.4" y2="693.4" stroke="#161616" stroke-width="1.45" />
<line x1="205.6" y1="693.4" x2="205.6" y2="696.7" stroke="#161616" stroke-width="1.1" />
<text x="205.6" y="708.4" font-size="9.2" text-anchor="middle" fill="#161616" >vehicle</text>
<line x1="233.9" y1="693.4" x2="233.9" y2="696.7" stroke="#161616" stroke-width="1.1" />
<text x="233.9" y="708.4" font-size="9.2" text-anchor="middle" fill="#161616" >TAM</text>
<text transform="translate(152.4,639.5) rotate(-90)" x="0" y="0" font-size="10.1" text-anchor="middle" fill="#161616" textLength="85.5" lengthAdjust="spacingAndGlyphs">% annexinV or DAPI</text>
<text transform="translate(167,639.5) rotate(-90)" x="0" y="0" font-size="10.1" text-anchor="middle" fill="#161616" textLength="53.5" lengthAdjust="spacingAndGlyphs">positive cells</text>
<line x1="85.6" y1="627.9" x2="116.7" y2="627.9" stroke="#161616" stroke-width="1.45" />
<text x="101.15" y="623.6" font-size="9" text-anchor="middle" fill="#161616" >ns</text>
<line x1="82.7" y1="650.5" x2="82.7" y2="652.7" stroke="#161616" stroke-width="1.0" stroke-dasharray="1.2,1.2" />
<line x1="75.7" y1="652.7" x2="89.7" y2="652.7" stroke="#161616" stroke-width="1.3" />
<rect x="71" y="646.9" width="23.5" height="3.6" fill="#bfbfbf" stroke="#161616" stroke-width="1.4"/>
<line x1="71" y1="649.4" x2="94.5" y2="649.4" stroke="#161616" stroke-width="1.5" />
<circle cx="82.7" cy="639.3" r="2.5" fill="none" stroke="#999" stroke-width="0.9"/>
<circle cx="75" cy="648.5" r="1.9" fill="#fff" stroke="#555" stroke-width="0.75"/>
<circle cx="79.5" cy="649.5" r="1.9" fill="#fff" stroke="#555" stroke-width="0.75"/>
<circle cx="86" cy="649.5" r="1.9" fill="#fff" stroke="#555" stroke-width="0.75"/>
<circle cx="90.5" cy="648.5" r="1.9" fill="#fff" stroke="#555" stroke-width="0.75"/>
<circle cx="82.7" cy="652.8" r="1.9" fill="#fff" stroke="#555" stroke-width="0.75"/>
<line x1="111" y1="635" x2="111" y2="640.9" stroke="#161616" stroke-width="1.0" stroke-dasharray="1.2,1.2" />
<line x1="104" y1="635" x2="118" y2="635" stroke="#161616" stroke-width="1.3" />
<rect x="99.5" y="640.9" width="23.1" height="5.7" fill="#727272" stroke="#161616" stroke-width="1.4"/>
<line x1="99.5" y1="643.2" x2="122.6" y2="643.2" stroke="#161616" stroke-width="1.5" />
<circle cx="111" cy="635" r="1.9" fill="#fff" stroke="#555" stroke-width="0.75"/>
<circle cx="114" cy="639.5" r="1.9" fill="#fff" stroke="#555" stroke-width="0.75"/>
<circle cx="111" cy="643.5" r="1.9" fill="#fff" stroke="#555" stroke-width="0.75"/>
<circle cx="118.5" cy="644.5" r="1.9" fill="#fff" stroke="#555" stroke-width="0.75"/>
<circle cx="106" cy="647.3" r="1.9" fill="#fff" stroke="#555" stroke-width="0.75"/>
<circle cx="111" cy="647.8" r="1.9" fill="#fff" stroke="#555" stroke-width="0.75"/>
<circle cx="115.5" cy="647.3" r="1.9" fill="#fff" stroke="#555" stroke-width="0.75"/>
<line x1="204" y1="594.6" x2="234.5" y2="594.6" stroke="#161616" stroke-width="1.45" />
<circle cx="216.65" cy="588.6" r="0.9" fill="#111"/>
<path d="M216.65,586.9 V590.3 M215.15,587.75 L218.15,589.45 M215.15,589.45 L218.15,587.75" stroke="#111" stroke-width="0.85" fill="none"/>
<circle cx="221.15" cy="588.6" r="0.9" fill="#111"/>
<path d="M221.15,586.9 V590.3 M219.65,587.75 L222.65,589.45 M219.65,589.45 L222.65,587.75" stroke="#111" stroke-width="0.85" fill="none"/>
<line x1="205.6" y1="619.5" x2="205.6" y2="626.4" stroke="#161616" stroke-width="1.0" stroke-dasharray="1.2,1.2" />
<line x1="198.6" y1="619.5" x2="212.6" y2="619.5" stroke="#161616" stroke-width="1.3" />
<line x1="205.6" y1="634.5" x2="205.6" y2="639.6" stroke="#161616" stroke-width="1.0" stroke-dasharray="1.2,1.2" />
<line x1="198.6" y1="639.6" x2="212.6" y2="639.6" stroke="#161616" stroke-width="1.3" />
<rect x="194" y="626.4" width="23.3" height="8.1" fill="#bfbfbf" stroke="#161616" stroke-width="1.4"/>
<line x1="194" y1="628.4" x2="217.3" y2="628.4" stroke="#161616" stroke-width="1.5" />
<circle cx="205.6" cy="619.8" r="1.9" fill="#fff" stroke="#555" stroke-width="0.75"/>
<circle cx="202.5" cy="625.8" r="1.9" fill="#fff" stroke="#555" stroke-width="0.75"/>
<circle cx="205.6" cy="629.5" r="1.9" fill="#fff" stroke="#555" stroke-width="0.75"/>
<circle cx="209.5" cy="628.5" r="1.9" fill="#fff" stroke="#555" stroke-width="0.75"/>
<circle cx="205.6" cy="634.5" r="1.9" fill="#fff" stroke="#555" stroke-width="0.75"/>
<circle cx="205.6" cy="639.8" r="1.9" fill="#fff" stroke="#555" stroke-width="0.75"/>
<line x1="233.9" y1="599.8" x2="233.9" y2="601.9" stroke="#161616" stroke-width="1.0" stroke-dasharray="1.2,1.2" />
<line x1="226.9" y1="599.8" x2="240.9" y2="599.8" stroke="#161616" stroke-width="1.3" />
<line x1="233.9" y1="614.2" x2="233.9" y2="622.7" stroke="#161616" stroke-width="1.0" stroke-dasharray="1.2,1.2" />
<line x1="226.9" y1="622.7" x2="240.9" y2="622.7" stroke="#161616" stroke-width="1.3" />
<rect x="222.6" y="601.9" width="23.1" height="12.3" fill="#727272" stroke="#161616" stroke-width="1.4"/>
<line x1="222.6" y1="605.9" x2="245.7" y2="605.9" stroke="#161616" stroke-width="1.5" />
<circle cx="230" cy="599.8" r="1.9" fill="#fff" stroke="#555" stroke-width="0.75"/>
<circle cx="236" cy="601" r="1.9" fill="#fff" stroke="#555" stroke-width="0.75"/>
<circle cx="239" cy="600" r="1.9" fill="#fff" stroke="#555" stroke-width="0.75"/>
<circle cx="237" cy="606" r="1.9" fill="#fff" stroke="#555" stroke-width="0.75"/>
<circle cx="233.9" cy="609" r="1.9" fill="#fff" stroke="#555" stroke-width="0.75"/>
<circle cx="236.5" cy="618.5" r="1.9" fill="#fff" stroke="#555" stroke-width="0.75"/>
<circle cx="233.9" cy="622.8" r="1.9" fill="#fff" stroke="#555" stroke-width="0.75"/>
<text x="267" y="558.9" font-size="12.3" text-anchor="start" fill="#000" font-weight="bold" >H</text>
<text class="tt" x="345.6" y="560.4" font-size="11" font-style="italic" fill="#161616">Atg5<tspan font-size="8.6" dy="-4.3">flox/flox</tspan><tspan dy="4.3">: Cre-ER</tspan><tspan font-size="7.9" dy="-4.3">T2</tspan></text>
<text class="tt" x="355.8" y="578" font-size="11" text-anchor="middle" fill="#161616">lineage<tspan font-size="7" dy="-3.7">+</tspan></text>
<text x="480.7" y="577.8" font-size="10.7" text-anchor="middle" fill="#161616" class="tt">LK</text>
<line x1="325" y1="584.3" x2="325" y2="694.05" stroke="#161616" stroke-width="1.45" />
<line x1="321.6" y1="588.5" x2="325" y2="588.5" stroke="#161616" stroke-width="1.1" />
<text x="318.5" y="591.2" font-size="9" text-anchor="end" fill="#161616" >40</text>
<line x1="321.6" y1="613.8" x2="325" y2="613.8" stroke="#161616" stroke-width="1.1" />
<text x="318.5" y="616.5" font-size="9" text-anchor="end" fill="#161616" >30</text>
<line x1="321.6" y1="639.1" x2="325" y2="639.1" stroke="#161616" stroke-width="1.1" />
<text x="318.5" y="641.8" font-size="9" text-anchor="end" fill="#161616" >20</text>
<line x1="321.6" y1="664.3" x2="325" y2="664.3" stroke="#161616" stroke-width="1.1" />
<text x="318.5" y="667" font-size="9" text-anchor="end" fill="#161616" >10</text>
<line x1="321.6" y1="689.4" x2="325" y2="689.4" stroke="#161616" stroke-width="1.1" />
<text x="318.5" y="692.1" font-size="9" text-anchor="end" fill="#161616" >0</text>
<line x1="324.35" y1="693.4" x2="387.6" y2="693.4" stroke="#161616" stroke-width="1.45" />
<line x1="342.2" y1="693.4" x2="342.2" y2="696.7" stroke="#161616" stroke-width="1.1" />
<text x="342.2" y="708.4" font-size="9.2" text-anchor="middle" fill="#161616" >vehicle</text>
<line x1="371.2" y1="693.4" x2="371.2" y2="696.7" stroke="#161616" stroke-width="1.1" />
<text x="371.2" y="708.4" font-size="9.2" text-anchor="middle" fill="#161616" >TAM</text>
<text transform="translate(288.6,639.5) rotate(-90)" x="0" y="0" font-size="10.1" text-anchor="middle" fill="#161616" textLength="85.5" lengthAdjust="spacingAndGlyphs">% annexinV or DAPI</text>
<text transform="translate(303.4,639.5) rotate(-90)" x="0" y="0" font-size="10.1" text-anchor="middle" fill="#161616" textLength="53.5" lengthAdjust="spacingAndGlyphs">positive cells</text>
<line x1="449.4" y1="584.3" x2="449.4" y2="694.05" stroke="#161616" stroke-width="1.45" />
<line x1="446" y1="588.5" x2="449.4" y2="588.5" stroke="#161616" stroke-width="1.1" />
<text x="442.9" y="591.2" font-size="9" text-anchor="end" fill="#161616" >40</text>
<line x1="446" y1="613.8" x2="449.4" y2="613.8" stroke="#161616" stroke-width="1.1" />
<text x="442.9" y="616.5" font-size="9" text-anchor="end" fill="#161616" >30</text>
<line x1="446" y1="639.1" x2="449.4" y2="639.1" stroke="#161616" stroke-width="1.1" />
<text x="442.9" y="641.8" font-size="9" text-anchor="end" fill="#161616" >20</text>
<line x1="446" y1="664.3" x2="449.4" y2="664.3" stroke="#161616" stroke-width="1.1" />
<text x="442.9" y="667" font-size="9" text-anchor="end" fill="#161616" >10</text>
<line x1="446" y1="689.4" x2="449.4" y2="689.4" stroke="#161616" stroke-width="1.1" />
<text x="442.9" y="692.1" font-size="9" text-anchor="end" fill="#161616" >0</text>
<line x1="448.75" y1="693.4" x2="512.8" y2="693.4" stroke="#161616" stroke-width="1.45" />
<line x1="466.7" y1="693.4" x2="466.7" y2="696.7" stroke="#161616" stroke-width="1.1" />
<text x="466.7" y="708.4" font-size="9.2" text-anchor="middle" fill="#161616" >vehicle</text>
<line x1="495.4" y1="693.4" x2="495.4" y2="696.7" stroke="#161616" stroke-width="1.1" />
<text x="495.4" y="708.4" font-size="9.2" text-anchor="middle" fill="#161616" >TAM</text>
<text transform="translate(413.2,639.5) rotate(-90)" x="0" y="0" font-size="10.1" text-anchor="middle" fill="#161616" textLength="85.5" lengthAdjust="spacingAndGlyphs">% annexinV or DAPI</text>
<text transform="translate(428,639.5) rotate(-90)" x="0" y="0" font-size="10.1" text-anchor="middle" fill="#161616" textLength="53.5" lengthAdjust="spacingAndGlyphs">positive cells</text>
<line x1="341.1" y1="617" x2="371.9" y2="617" stroke="#161616" stroke-width="1.45" />
<text x="356.5" y="613" font-size="9" text-anchor="middle" fill="#161616" >ns</text>
<line x1="342.2" y1="670.1" x2="342.2" y2="672.3" stroke="#161616" stroke-width="1.0" stroke-dasharray="1.2,1.2" />
<line x1="335.2" y1="670.1" x2="349.2" y2="670.1" stroke="#161616" stroke-width="1.3" />
<rect x="330.1" y="672.3" width="24.3" height="4.9" fill="#bfbfbf" stroke="#161616" stroke-width="1.4"/>
<line x1="330.1" y1="674.7" x2="354.4" y2="674.7" stroke="#161616" stroke-width="1.5" />
<circle cx="342.2" cy="670" r="1.9" fill="#fff" stroke="#555" stroke-width="0.75"/>
<circle cx="347" cy="672.5" r="1.9" fill="#fff" stroke="#555" stroke-width="0.75"/>
<circle cx="333.5" cy="675.5" r="1.9" fill="#fff" stroke="#555" stroke-width="0.75"/>
<circle cx="338" cy="677.5" r="1.9" fill="#fff" stroke="#555" stroke-width="0.75"/>
<circle cx="342.2" cy="677.5" r="1.9" fill="#fff" stroke="#555" stroke-width="0.75"/>
<circle cx="346.5" cy="677.5" r="1.9" fill="#fff" stroke="#555" stroke-width="0.75"/>
<circle cx="351" cy="675.5" r="1.9" fill="#fff" stroke="#555" stroke-width="0.75"/>
<line x1="371.2" y1="657" x2="371.2" y2="664.2" stroke="#161616" stroke-width="1.0" stroke-dasharray="1.2,1.2" />
<line x1="364.2" y1="657" x2="378.2" y2="657" stroke="#161616" stroke-width="1.3" />
<line x1="371.2" y1="676.5" x2="371.2" y2="680.7" stroke="#161616" stroke-width="1.0" stroke-dasharray="1.2,1.2" />
<line x1="364.2" y1="680.7" x2="378.2" y2="680.7" stroke="#161616" stroke-width="1.3" />
<rect x="359.4" y="664.2" width="23.4" height="12.3" fill="#727272" stroke="#161616" stroke-width="1.4"/>
<line x1="359.4" y1="673.3" x2="382.8" y2="673.3" stroke="#161616" stroke-width="1.5" />
<circle cx="374.5" cy="657" r="1.9" fill="#fff" stroke="#555" stroke-width="0.75"/>
<circle cx="371.2" cy="660.5" r="1.9" fill="#fff" stroke="#555" stroke-width="0.75"/>
<circle cx="371.2" cy="668" r="1.9" fill="#fff" stroke="#555" stroke-width="0.75"/>
<circle cx="371.2" cy="673.5" r="1.9" fill="#fff" stroke="#555" stroke-width="0.75"/>
<circle cx="375.5" cy="673.5" r="1.9" fill="#fff" stroke="#555" stroke-width="0.75"/>
<circle cx="371.2" cy="679" r="1.9" fill="#fff" stroke="#555" stroke-width="0.75"/>
<circle cx="374.5" cy="680.5" r="1.9" fill="#fff" stroke="#555" stroke-width="0.75"/>
<line x1="463.2" y1="613.1" x2="493.9" y2="613.1" stroke="#161616" stroke-width="1.45" />
<circle cx="476.25" cy="607.1" r="0.9" fill="#111"/>
<path d="M476.25,605.4 V608.8 M474.75,606.25 L477.75,607.95 M474.75,607.95 L477.75,606.25" stroke="#111" stroke-width="0.85" fill="none"/>
<circle cx="480.75" cy="607.1" r="0.9" fill="#111"/>
<path d="M480.75,605.4 V608.8 M479.25,606.25 L482.25,607.95 M479.25,607.95 L482.25,606.25" stroke="#111" stroke-width="0.85" fill="none"/>
<line x1="466.7" y1="648.6" x2="466.7" y2="651.4" stroke="#161616" stroke-width="1.0" stroke-dasharray="1.2,1.2" />
<line x1="459.7" y1="648.6" x2="473.7" y2="648.6" stroke="#161616" stroke-width="1.3" />
<rect x="454.4" y="651.4" width="24.1" height="6.1" fill="#bfbfbf" stroke="#161616" stroke-width="1.4"/>
<line x1="454.4" y1="654.2" x2="478.5" y2="654.2" stroke="#161616" stroke-width="1.5" />
<circle cx="466.7" cy="666" r="2.5" fill="none" stroke="#999" stroke-width="0.9"/>
<circle cx="466.7" cy="648.5" r="1.9" fill="#fff" stroke="#555" stroke-width="0.75"/>
<circle cx="461.5" cy="652" r="1.9" fill="#fff" stroke="#555" stroke-width="0.75"/>
<circle cx="468" cy="651.8" r="1.9" fill="#fff" stroke="#555" stroke-width="0.75"/>
<circle cx="470.5" cy="653.5" r="1.9" fill="#fff" stroke="#555" stroke-width="0.75"/>
<circle cx="466.7" cy="657.3" r="1.9" fill="#fff" stroke="#555" stroke-width="0.75"/>
<line x1="495.4" y1="637.9" x2="495.4" y2="639.4" stroke="#161616" stroke-width="1.0" stroke-dasharray="1.2,1.2" />
<line x1="488.4" y1="639.4" x2="502.4" y2="639.4" stroke="#161616" stroke-width="1.3" />
<rect x="483.2" y="631.8" width="25" height="6.1" fill="#727272" stroke="#161616" stroke-width="1.4"/>
<line x1="483.2" y1="634.8" x2="508.2" y2="634.8" stroke="#161616" stroke-width="1.5" />
<circle cx="495.4" cy="623.5" r="2.5" fill="none" stroke="#999" stroke-width="0.9"/>
<circle cx="495.4" cy="669.8" r="2.5" fill="none" stroke="#999" stroke-width="0.9"/>
<circle cx="491" cy="632" r="1.9" fill="#fff" stroke="#555" stroke-width="0.75"/>
<circle cx="499.5" cy="632" r="1.9" fill="#fff" stroke="#555" stroke-width="0.75"/>
<circle cx="495.4" cy="634.5" r="1.9" fill="#fff" stroke="#555" stroke-width="0.75"/>
<circle cx="498.5" cy="636" r="1.9" fill="#fff" stroke="#555" stroke-width="0.75"/>
<circle cx="495.4" cy="639" r="1.9" fill="#fff" stroke="#555" stroke-width="0.75"/>
<text x="298.6" y="17.6" font-size="12.3" text-anchor="start" fill="#000" font-weight="bold" >C</text>
<text class="tt" x="380.5" y="18.4" font-size="11" text-anchor="middle" fill="#161616">lineage<tspan font-size="7" dy="-3.7">+</tspan></text>
<rect x="345.9" y="24.8" width="69.7" height="69.6" fill="none" stroke="#161616" stroke-width="1.3"/>
<line x1="342.3" y1="28.7" x2="345.9" y2="28.7" stroke="#161616" stroke-width="1.0" />
<text x="339.7" y="31.3" font-size="7.3" text-anchor="end" fill="#161616" class="sm" letter-spacing="-0.15">100</text>
<line x1="342.3" y1="41.84" x2="345.9" y2="41.84" stroke="#161616" stroke-width="1.0" />
<text x="339.7" y="44.44" font-size="7.3" text-anchor="end" fill="#161616" class="sm" letter-spacing="-0.15">80</text>
<line x1="342.3" y1="54.98" x2="345.9" y2="54.98" stroke="#161616" stroke-width="1.0" />
<text x="339.7" y="57.58" font-size="7.3" text-anchor="end" fill="#161616" class="sm" letter-spacing="-0.15">60</text>
<line x1="342.3" y1="68.12" x2="345.9" y2="68.12" stroke="#161616" stroke-width="1.0" />
<text x="339.7" y="70.72" font-size="7.3" text-anchor="end" fill="#161616" class="sm" letter-spacing="-0.15">40</text>
<line x1="342.3" y1="81.26" x2="345.9" y2="81.26" stroke="#161616" stroke-width="1.0" />
<text x="339.7" y="83.86" font-size="7.3" text-anchor="end" fill="#161616" class="sm" letter-spacing="-0.15">20</text>
<line x1="342.3" y1="94.4" x2="345.9" y2="94.4" stroke="#161616" stroke-width="1.0" />
<text x="339.7" y="97" font-size="7.3" text-anchor="end" fill="#161616" class="sm" letter-spacing="-0.15">0</text>
<line x1="352.59" y1="94.4" x2="352.59" y2="97.7" stroke="#161616" stroke-width="1.0" />
<line x1="360.33" y1="94.4" x2="360.33" y2="97.7" stroke="#161616" stroke-width="1.0" />
<line x1="377.2" y1="94.4" x2="377.2" y2="97.7" stroke="#161616" stroke-width="1.0" />
<line x1="393.09" y1="94.4" x2="393.09" y2="97.7" stroke="#161616" stroke-width="1.0" />
<line x1="408.49" y1="94.4" x2="408.49" y2="97.7" stroke="#161616" stroke-width="1.0" />
<line x1="350.29" y1="94.4" x2="350.29" y2="97" stroke="#161616" stroke-width="0.9" />
<line x1="356.77" y1="94.4" x2="356.77" y2="97" stroke="#161616" stroke-width="0.9" />
<line x1="371.48" y1="94.4" x2="371.48" y2="97" stroke="#161616" stroke-width="0.9" />
<line x1="403.82" y1="94.4" x2="403.82" y2="97" stroke="#161616" stroke-width="0.9" />
<text x="352.87" y="106.6" font-size="6.6" text-anchor="middle" fill="#161616" class="sm">0</text>
<text class="sm" x="361.3" y="106.6" font-size="6.6" text-anchor="middle" fill="#161616">10<tspan font-size="4.6" dy="-2.8">2</tspan></text>
<text class="sm" x="377.47" y="106.6" font-size="6.6" text-anchor="middle" fill="#161616">10<tspan font-size="4.6" dy="-2.8">3</tspan></text>
<text class="sm" x="393.02" y="106.6" font-size="6.6" text-anchor="middle" fill="#161616">10<tspan font-size="4.6" dy="-2.8">4</tspan></text>
<text class="sm" x="408.77" y="106.6" font-size="6.6" text-anchor="middle" fill="#161616">10<tspan font-size="4.6" dy="-2.8">5</tspan></text>
<path d="M347,94.3 C349.5,94.3 358.83,94.32 362,94.3 C365.17,94.28 364.92,94.28 366,94.2 C367.08,94.12 367.5,94.07 368.5,93.8 C369.5,93.53 370.75,93.1 372,92.6 C373.25,92.1 374.65,91.5 376,90.8 C377.35,90.1 379.05,89.15 380.1,88.4 C381.15,87.65 381.72,87.13 382.3,86.3 C382.88,85.47 383.15,85.28 383.6,83.4 C384.05,81.52 384.57,78.2 385,75 C385.43,71.8 385.82,68.37 386.2,64.2 C386.58,60.03 386.97,54.18 387.3,50 C387.63,45.82 387.92,42.1 388.2,39.1 C388.48,36.1 388.75,33.58 389,32 C389.25,30.42 389.45,29.68 389.7,29.6 C389.95,29.52 390.25,30.52 390.5,31.5 C390.75,32.48 390.97,33.75 391.2,35.5 C391.43,37.25 391.63,39.08 391.9,42 C392.17,44.92 392.5,49.3 392.8,53 C393.1,56.7 393.42,60.37 393.7,64.2 C393.98,68.03 394.25,72.63 394.5,76 C394.75,79.37 394.92,81.9 395.2,84.4 C395.48,86.9 395.87,89.45 396.2,91 C396.53,92.55 396.73,93.15 397.2,93.7 C397.67,94.25 396.2,94.2 399,94.3 C401.8,94.4 411.5,94.3 414,94.3" fill="none" stroke="#111" stroke-width="1.5" stroke-linejoin="round"/>
<path d="M347,94.3 C349.5,94.3 358.83,94.32 362,94.3 C365.17,94.28 364.92,94.28 366,94.2 C367.08,94.12 367.5,94.07 368.5,93.8 C369.5,93.53 370.75,93.1 372,92.6 C373.25,92.1 374.65,91.5 376,90.8 C377.35,90.1 379.05,89.15 380.1,88.4 C381.15,87.65 381.72,87.13 382.3,86.3 C382.88,85.47 383.15,85.28 383.6,83.4 C384.05,81.52 384.57,78.2 385,75 C385.43,71.8 385.82,68.37 386.2,64.2 C386.58,60.03 386.97,54.18 387.3,50 C387.63,45.82 387.92,42.1 388.2,39.1 C388.48,36.1 388.75,33.58 389,32 C389.25,30.42 389.45,29.68 389.7,29.6 C389.95,29.52 390.25,30.52 390.5,31.5 C390.75,32.48 390.97,33.75 391.2,35.5 C391.43,37.25 391.63,39.08 391.9,42 C392.17,44.92 392.5,49.3 392.8,53 C393.1,56.7 393.42,60.37 393.7,64.2 C393.98,68.03 394.25,72.63 394.5,76 C394.75,79.37 394.92,81.9 395.2,84.4 C395.48,86.9 395.87,89.45 396.2,91 C396.53,92.55 396.73,93.15 397.2,93.7 C397.67,94.25 396.2,94.2 399,94.3 C401.8,94.4 411.5,94.3 414,94.3" fill="none" stroke="#7a7a7a" stroke-width="1.45" stroke-dasharray="2.8,1.7" stroke-linejoin="round"/>
<line x1="348.6" y1="31.7" x2="360.9" y2="31.7" stroke="#7a7a7a" stroke-width="1.4" stroke-dasharray="3.2,1.8" />
<text x="363.9" y="34" font-size="7" text-anchor="start" fill="#222" class="sm" textLength="19" lengthAdjust="spacingAndGlyphs">vehicle</text>
<line x1="348.6" y1="42" x2="360.9" y2="42" stroke="#111" stroke-width="1.7" />
<text x="363.9" y="44.3" font-size="7" text-anchor="start" fill="#222" class="sm" textLength="12.8" lengthAdjust="spacingAndGlyphs">TAM</text>
<text transform="translate(321.2,59.6) rotate(-90)" x="0" y="0" font-size="10.2" text-anchor="middle" fill="#161616" class="md">% of max</text>
<text x="380.6" y="134.4" font-size="10.7" text-anchor="middle" fill="#161616" class="tt">LK</text>
<rect x="345.9" y="140.3" width="69.7" height="69.5" fill="none" stroke="#161616" stroke-width="1.3"/>
<line x1="342.3" y1="144.2" x2="345.9" y2="144.2" stroke="#161616" stroke-width="1.0" />
<text x="339.7" y="146.8" font-size="7.3" text-anchor="end" fill="#161616" class="sm" letter-spacing="-0.15">100</text>
<line x1="342.3" y1="157.32" x2="345.9" y2="157.32" stroke="#161616" stroke-width="1.0" />
<text x="339.7" y="159.92" font-size="7.3" text-anchor="end" fill="#161616" class="sm" letter-spacing="-0.15">80</text>
<line x1="342.3" y1="170.44" x2="345.9" y2="170.44" stroke="#161616" stroke-width="1.0" />
<text x="339.7" y="173.04" font-size="7.3" text-anchor="end" fill="#161616" class="sm" letter-spacing="-0.15">60</text>
<line x1="342.3" y1="183.56" x2="345.9" y2="183.56" stroke="#161616" stroke-width="1.0" />
<text x="339.7" y="186.16" font-size="7.3" text-anchor="end" fill="#161616" class="sm" letter-spacing="-0.15">40</text>
<line x1="342.3" y1="196.68" x2="345.9" y2="196.68" stroke="#161616" stroke-width="1.0" />
<text x="339.7" y="199.28" font-size="7.3" text-anchor="end" fill="#161616" class="sm" letter-spacing="-0.15">20</text>
<line x1="342.3" y1="209.8" x2="345.9" y2="209.8" stroke="#161616" stroke-width="1.0" />
<text x="339.7" y="212.4" font-size="7.3" text-anchor="end" fill="#161616" class="sm" letter-spacing="-0.15">0</text>
<line x1="352.59" y1="209.8" x2="352.59" y2="213.1" stroke="#161616" stroke-width="1.0" />
<line x1="360.33" y1="209.8" x2="360.33" y2="213.1" stroke="#161616" stroke-width="1.0" />
<line x1="377.2" y1="209.8" x2="377.2" y2="213.1" stroke="#161616" stroke-width="1.0" />
<line x1="393.09" y1="209.8" x2="393.09" y2="213.1" stroke="#161616" stroke-width="1.0" />
<line x1="408.49" y1="209.8" x2="408.49" y2="213.1" stroke="#161616" stroke-width="1.0" />
<line x1="350.29" y1="209.8" x2="350.29" y2="212.4" stroke="#161616" stroke-width="0.9" />
<line x1="356.77" y1="209.8" x2="356.77" y2="212.4" stroke="#161616" stroke-width="0.9" />
<line x1="371.48" y1="209.8" x2="371.48" y2="212.4" stroke="#161616" stroke-width="0.9" />
<line x1="403.82" y1="209.8" x2="403.82" y2="212.4" stroke="#161616" stroke-width="0.9" />
<text x="352.87" y="222" font-size="6.6" text-anchor="middle" fill="#161616" class="sm">0</text>
<text class="sm" x="361.3" y="222" font-size="6.6" text-anchor="middle" fill="#161616">10<tspan font-size="4.6" dy="-2.8">2</tspan></text>
<text class="sm" x="377.47" y="222" font-size="6.6" text-anchor="middle" fill="#161616">10<tspan font-size="4.6" dy="-2.8">3</tspan></text>
<text class="sm" x="393.02" y="222" font-size="6.6" text-anchor="middle" fill="#161616">10<tspan font-size="4.6" dy="-2.8">4</tspan></text>
<text class="sm" x="408.77" y="222" font-size="6.6" text-anchor="middle" fill="#161616">10<tspan font-size="4.6" dy="-2.8">5</tspan></text>
<path d="M347,209.7 C350.33,209.7 362.98,209.77 367,209.7 C371.02,209.63 369.75,209.85 371.1,209.3 C372.45,208.75 373.85,207.72 375.1,206.4 C376.35,205.08 377.68,202.83 378.6,201.4 C379.52,199.97 380.13,198.68 380.6,197.8 C381.07,196.92 381.17,196.23 381.4,196.1 C381.63,195.97 381.63,197.55 382,197 C382.37,196.45 383.07,194.75 383.6,192.8 C384.13,190.85 384.68,188.57 385.2,185.3 C385.72,182.03 386.2,177.73 386.7,173.2 C387.2,168.67 387.8,162.22 388.2,158.1 C388.6,153.98 388.85,150.62 389.1,148.5 C389.35,146.38 389.47,145.48 389.7,145.4 C389.93,145.32 390.23,146.23 390.5,148 C390.77,149.77 391.02,153 391.3,156 C391.58,159 391.92,162.42 392.2,166 C392.48,169.58 392.75,173.78 393,177.5 C393.25,181.22 393.45,184.97 393.7,188.3 C393.95,191.63 394.25,194.82 394.5,197.5 C394.75,200.18 394.92,202.57 395.2,204.4 C395.48,206.23 395.82,207.62 396.2,208.5 C396.58,209.38 394.53,209.5 397.5,209.7 C400.47,209.9 411.25,209.7 414,209.7" fill="none" stroke="#111" stroke-width="1.5" stroke-linejoin="round"/>
<path d="M347,209.7 C350,209.7 361.5,209.77 365,209.7 C368.5,209.63 367.15,209.77 368,209.3 C368.85,208.83 369.42,208.38 370.1,206.9 C370.78,205.42 371.35,202.83 372.1,200.4 C372.85,197.97 373.77,194.82 374.6,192.3 C375.43,189.78 376.27,187.05 377.1,185.3 C377.93,183.55 378.85,182.9 379.6,181.8 C380.35,180.7 380.98,179.43 381.6,178.7 C382.22,177.97 382.83,177.43 383.3,177.4 C383.77,177.37 384.05,179.4 384.4,178.5 C384.75,177.6 385.1,174.22 385.4,172 C385.7,169.78 385.88,167.7 386.2,165.2 C386.52,162.7 386.97,159.28 387.3,157 C387.63,154.72 387.92,153.17 388.2,151.5 C388.48,149.83 388.75,148.02 389,147 C389.25,145.98 389.45,145.32 389.7,145.4 C389.95,145.48 390.23,146.23 390.5,147.5 C390.77,148.77 391.02,150.9 391.3,153 C391.58,155.1 391.92,156.93 392.2,160.1 C392.48,163.27 392.75,167.8 393,172 C393.25,176.2 393.45,181.3 393.7,185.3 C393.95,189.3 394.25,192.82 394.5,196 C394.75,199.18 394.92,202.32 395.2,204.4 C395.48,206.48 395.82,207.62 396.2,208.5 C396.58,209.38 394.53,209.5 397.5,209.7 C400.47,209.9 411.25,209.7 414,209.7" fill="none" stroke="#7a7a7a" stroke-width="1.45" stroke-dasharray="2.8,1.7" stroke-linejoin="round"/>
<line x1="348.6" y1="146" x2="360.9" y2="146" stroke="#7a7a7a" stroke-width="1.4" stroke-dasharray="3.2,1.8" />
<text x="363.9" y="148.3" font-size="7" text-anchor="start" fill="#222" class="sm" textLength="19" lengthAdjust="spacingAndGlyphs">vehicle</text>
<line x1="348.6" y1="156.2" x2="360.9" y2="156.2" stroke="#111" stroke-width="1.7" />
<text x="363.9" y="158.5" font-size="7" text-anchor="start" fill="#222" class="sm" textLength="12.8" lengthAdjust="spacingAndGlyphs">TAM</text>
<text transform="translate(321.2,175.05) rotate(-90)" x="0" y="0" font-size="10.2" text-anchor="middle" fill="#161616" class="md">% of max</text>
<line x1="342.3" y1="227" x2="418.5" y2="227" stroke="#161616" stroke-width="1.45" />
<path d="M422.8,227 L416.6,223.9 L416.6,230.1 Z" fill="#111"/>
<text x="380.5" y="240.3" font-size="10.4" text-anchor="middle" fill="#161616" textLength="80" lengthAdjust="spacingAndGlyphs">Mitotracker Orange</text>
<text x="253.2" y="271.7" font-size="12.3" text-anchor="start" fill="#000" font-weight="bold" >E</text>
<text class="tt" x="334.2" y="271.9" font-size="11" text-anchor="middle" fill="#161616">lineage<tspan font-size="7" dy="-3.7">+</tspan></text>
<rect x="298.3" y="277.9" width="72" height="70.9" fill="none" stroke="#161616" stroke-width="1.3"/>
<line x1="294.7" y1="281.8" x2="298.3" y2="281.8" stroke="#161616" stroke-width="1.0" />
<text x="292.1" y="284.4" font-size="7.3" text-anchor="end" fill="#161616" class="sm" letter-spacing="-0.15">100</text>
<line x1="294.7" y1="295.2" x2="298.3" y2="295.2" stroke="#161616" stroke-width="1.0" />
<text x="292.1" y="297.8" font-size="7.3" text-anchor="end" fill="#161616" class="sm" letter-spacing="-0.15">80</text>
<line x1="294.7" y1="308.6" x2="298.3" y2="308.6" stroke="#161616" stroke-width="1.0" />
<text x="292.1" y="311.2" font-size="7.3" text-anchor="end" fill="#161616" class="sm" letter-spacing="-0.15">60</text>
<line x1="294.7" y1="322" x2="298.3" y2="322" stroke="#161616" stroke-width="1.0" />
<text x="292.1" y="324.6" font-size="7.3" text-anchor="end" fill="#161616" class="sm" letter-spacing="-0.15">40</text>
<line x1="294.7" y1="335.4" x2="298.3" y2="335.4" stroke="#161616" stroke-width="1.0" />
<text x="292.1" y="338" font-size="7.3" text-anchor="end" fill="#161616" class="sm" letter-spacing="-0.15">20</text>
<line x1="294.7" y1="348.8" x2="298.3" y2="348.8" stroke="#161616" stroke-width="1.0" />
<text x="292.1" y="351.4" font-size="7.3" text-anchor="end" fill="#161616" class="sm" letter-spacing="-0.15">0</text>
<line x1="305.21" y1="348.8" x2="305.21" y2="352.1" stroke="#161616" stroke-width="1.0" />
<line x1="313.2" y1="348.8" x2="313.2" y2="352.1" stroke="#161616" stroke-width="1.0" />
<line x1="330.63" y1="348.8" x2="330.63" y2="352.1" stroke="#161616" stroke-width="1.0" />
<line x1="347.04" y1="348.8" x2="347.04" y2="352.1" stroke="#161616" stroke-width="1.0" />
<line x1="362.96" y1="348.8" x2="362.96" y2="352.1" stroke="#161616" stroke-width="1.0" />
<line x1="302.84" y1="348.8" x2="302.84" y2="351.4" stroke="#161616" stroke-width="0.9" />
<line x1="309.53" y1="348.8" x2="309.53" y2="351.4" stroke="#161616" stroke-width="0.9" />
<line x1="324.72" y1="348.8" x2="324.72" y2="351.4" stroke="#161616" stroke-width="0.9" />
<line x1="358.13" y1="348.8" x2="358.13" y2="351.4" stroke="#161616" stroke-width="0.9" />
<text x="305.5" y="361" font-size="6.6" text-anchor="middle" fill="#161616" class="sm">0</text>
<text class="sm" x="314.21" y="361" font-size="6.6" text-anchor="middle" fill="#161616">10<tspan font-size="4.6" dy="-2.8">2</tspan></text>
<text class="sm" x="330.92" y="361" font-size="6.6" text-anchor="middle" fill="#161616">10<tspan font-size="4.6" dy="-2.8">3</tspan></text>
<text class="sm" x="346.97" y="361" font-size="6.6" text-anchor="middle" fill="#161616">10<tspan font-size="4.6" dy="-2.8">4</tspan></text>
<text class="sm" x="363.24" y="361" font-size="6.6" text-anchor="middle" fill="#161616">10<tspan font-size="4.6" dy="-2.8">5</tspan></text>
<path d="M300,348.7 C302.67,348.7 312.67,348.75 316,348.7 C319.33,348.65 318.62,348.65 320,348.4 C321.38,348.15 322.57,348.05 324.3,347.2 C326.03,346.35 328.78,344.8 330.4,343.3 C332.02,341.8 333.07,340.07 334,338.2 C334.93,336.33 335.47,333.92 336,332.1 C336.53,330.28 336.85,329.17 337.2,327.3 C337.55,325.43 337.62,324.18 338.1,320.9 C338.58,317.62 339.43,312.37 340.1,307.6 C340.77,302.83 341.55,296.15 342.1,292.3 C342.65,288.45 343.05,286.12 343.4,284.5 C343.75,282.88 343.93,282.77 344.2,282.6 C344.47,282.43 344.75,282.73 345,283.5 C345.25,284.27 345.33,284.03 345.7,287.2 C346.07,290.37 346.68,297.4 347.2,302.5 C347.72,307.6 348.28,312.53 348.8,317.8 C349.32,323.07 349.8,329.68 350.3,334.1 C350.8,338.52 351.32,341.93 351.8,344.3 C352.28,346.67 352.67,347.57 353.2,348.3 C353.73,349.03 352.37,348.63 355,348.7 C357.63,348.77 366.67,348.7 369,348.7" fill="none" stroke="#111" stroke-width="1.5" stroke-linejoin="round"/>
<path d="M300,348.7 C302.33,348.7 311,348.75 314,348.7 C317,348.65 316.45,348.78 318,348.4 C319.55,348.02 321.4,347.75 323.3,346.4 C325.2,345.05 327.7,342.17 329.4,340.3 C331.1,338.43 332.48,336.57 333.5,335.2 C334.52,333.83 334.93,333.38 335.5,332.1 C336.07,330.82 336.47,329.37 336.9,327.5 C337.33,325.63 337.57,324.22 338.1,320.9 C338.63,317.58 339.43,312.37 340.1,307.6 C340.77,302.83 341.55,296.15 342.1,292.3 C342.65,288.45 343.05,286.12 343.4,284.5 C343.75,282.88 343.93,282.77 344.2,282.6 C344.47,282.43 344.75,282.73 345,283.5 C345.25,284.27 345.33,284.03 345.7,287.2 C346.07,290.37 346.68,297.4 347.2,302.5 C347.72,307.6 348.28,312.53 348.8,317.8 C349.32,323.07 349.8,329.68 350.3,334.1 C350.8,338.52 351.32,341.93 351.8,344.3 C352.28,346.67 352.67,347.57 353.2,348.3 C353.73,349.03 352.37,348.63 355,348.7 C357.63,348.77 366.67,348.7 369,348.7" fill="none" stroke="#7a7a7a" stroke-width="1.45" stroke-dasharray="2.8,1.7" stroke-linejoin="round"/>
<line x1="301" y1="282.5" x2="313.3" y2="282.5" stroke="#7a7a7a" stroke-width="1.4" stroke-dasharray="3.2,1.8" />
<text x="316.3" y="284.8" font-size="7" text-anchor="start" fill="#222" class="sm" textLength="19" lengthAdjust="spacingAndGlyphs">vehicle</text>
<line x1="301" y1="292.2" x2="313.3" y2="292.2" stroke="#111" stroke-width="1.7" />
<text x="316.3" y="294.5" font-size="7" text-anchor="start" fill="#222" class="sm" textLength="12.8" lengthAdjust="spacingAndGlyphs">TAM</text>
<text transform="translate(274,313.35) rotate(-90)" x="0" y="0" font-size="10.2" text-anchor="middle" fill="#161616" class="md">% of max</text>
<text x="334.1" y="389" font-size="10.7" text-anchor="middle" fill="#161616" class="tt">LK</text>
<rect x="298.6" y="394.5" width="71.4" height="70.6" fill="none" stroke="#161616" stroke-width="1.3"/>
<line x1="295" y1="398.4" x2="298.6" y2="398.4" stroke="#161616" stroke-width="1.0" />
<text x="292.4" y="401" font-size="7.3" text-anchor="end" fill="#161616" class="sm" letter-spacing="-0.15">100</text>
<line x1="295" y1="411.74" x2="298.6" y2="411.74" stroke="#161616" stroke-width="1.0" />
<text x="292.4" y="414.34" font-size="7.3" text-anchor="end" fill="#161616" class="sm" letter-spacing="-0.15">80</text>
<line x1="295" y1="425.08" x2="298.6" y2="425.08" stroke="#161616" stroke-width="1.0" />
<text x="292.4" y="427.68" font-size="7.3" text-anchor="end" fill="#161616" class="sm" letter-spacing="-0.15">60</text>
<line x1="295" y1="438.42" x2="298.6" y2="438.42" stroke="#161616" stroke-width="1.0" />
<text x="292.4" y="441.02" font-size="7.3" text-anchor="end" fill="#161616" class="sm" letter-spacing="-0.15">40</text>
<line x1="295" y1="451.76" x2="298.6" y2="451.76" stroke="#161616" stroke-width="1.0" />
<text x="292.4" y="454.36" font-size="7.3" text-anchor="end" fill="#161616" class="sm" letter-spacing="-0.15">20</text>
<line x1="295" y1="465.1" x2="298.6" y2="465.1" stroke="#161616" stroke-width="1.0" />
<text x="292.4" y="467.7" font-size="7.3" text-anchor="end" fill="#161616" class="sm" letter-spacing="-0.15">0</text>
<line x1="305.45" y1="465.1" x2="305.45" y2="468.4" stroke="#161616" stroke-width="1.0" />
<line x1="313.38" y1="465.1" x2="313.38" y2="468.4" stroke="#161616" stroke-width="1.0" />
<line x1="330.66" y1="465.1" x2="330.66" y2="468.4" stroke="#161616" stroke-width="1.0" />
<line x1="346.94" y1="465.1" x2="346.94" y2="468.4" stroke="#161616" stroke-width="1.0" />
<line x1="362.72" y1="465.1" x2="362.72" y2="468.4" stroke="#161616" stroke-width="1.0" />
<line x1="303.1" y1="465.1" x2="303.1" y2="467.7" stroke="#161616" stroke-width="0.9" />
<line x1="309.74" y1="465.1" x2="309.74" y2="467.7" stroke="#161616" stroke-width="0.9" />
<line x1="324.8" y1="465.1" x2="324.8" y2="467.7" stroke="#161616" stroke-width="0.9" />
<line x1="357.93" y1="465.1" x2="357.93" y2="467.7" stroke="#161616" stroke-width="0.9" />
<text x="305.74" y="477.3" font-size="6.6" text-anchor="middle" fill="#161616" class="sm">0</text>
<text class="sm" x="314.38" y="477.3" font-size="6.6" text-anchor="middle" fill="#161616">10<tspan font-size="4.6" dy="-2.8">2</tspan></text>
<text class="sm" x="330.94" y="477.3" font-size="6.6" text-anchor="middle" fill="#161616">10<tspan font-size="4.6" dy="-2.8">3</tspan></text>
<text class="sm" x="346.87" y="477.3" font-size="6.6" text-anchor="middle" fill="#161616">10<tspan font-size="4.6" dy="-2.8">4</tspan></text>
<text class="sm" x="363" y="477.3" font-size="6.6" text-anchor="middle" fill="#161616">10<tspan font-size="4.6" dy="-2.8">5</tspan></text>
<path d="M300,465 C301.75,465 312.76,465.04 315,465 C317.24,464.96 318.23,465.13 319.2,464.7 C320.17,464.27 322.47,462.41 323.3,461.3 C324.13,460.19 325.65,456.99 326.3,455.2 C326.95,453.41 328.36,448.02 328.9,446 C329.44,443.98 330.49,439.21 330.9,437.9 C331.31,436.59 332.01,435.28 332.4,434.8 C332.78,434.32 333.84,435.11 334.2,433.8 C334.56,432.49 335.25,424.2 335.5,423.6 C335.75,423 336.12,427.74 336.3,428.7 C336.48,429.66 336.85,431.92 337,431.8 C337.15,431.68 337.3,428.3 337.6,427.7 C337.9,427.1 339.25,427.54 339.6,426.7 C339.95,425.86 340.31,422.41 340.6,420.5 C340.89,418.59 341.8,412.65 342.1,410.3 C342.4,407.95 342.95,401.76 343.2,400.4 C343.44,399.03 343.97,398.16 344.2,398.6 C344.43,399.04 344.91,401.64 345.2,404.2 C345.49,406.75 346.36,418.21 346.7,420.5 C347.04,422.79 347.8,422.13 348.1,423.8 C348.4,425.47 349.04,431.62 349.3,434.8 C349.56,437.99 350.07,448.12 350.3,451.1 C350.53,454.08 351.07,458.73 351.3,460.3 C351.53,461.88 351.99,464.05 352.3,464.6 C352.62,465.15 352.05,464.95 354,465 C355.95,465.05 367.25,465 369,465" fill="none" stroke="#111" stroke-width="1.5" stroke-linejoin="round"/>
<path d="M300,465 C301.65,465 308.74,465.06 311,465 C313.26,464.94 314.05,464.98 315.1,464.6 C316.15,464.23 317.24,463.3 318,462.5 C318.76,461.7 319.4,461.01 320.2,459.3 C321,457.59 322.54,454.46 323.3,451.1 C324.06,447.74 324.7,441.02 325.3,436.9 C325.9,432.77 326.69,427.12 327.3,423.6 C327.92,420.08 328.92,415.51 329.4,413.4 C329.88,411.28 330.2,409.78 330.5,409.5 C330.8,409.22 331.12,411.68 331.4,411.5 C331.68,411.32 332.11,408.38 332.4,408.3 C332.69,408.23 333.01,410.81 333.3,411 C333.59,411.19 333.97,409.32 334.3,409.6 C334.63,409.88 334.93,411.79 335.5,412.9 C336.07,414.01 337.41,415.9 338.1,417 C338.79,418.1 339.64,419.97 340.1,420.2 C340.56,420.43 340.9,419.37 341.2,418.5 C341.5,417.63 341.65,416.54 342.1,414.4 C342.55,412.25 343.68,406.28 344.2,404.2 C344.72,402.12 345.23,401.12 345.6,400.5 C345.98,399.88 346.41,399.43 346.7,400.1 C346.99,400.78 347.26,402.86 347.5,405 C347.74,407.14 348.03,410.69 348.3,414.4 C348.57,418.1 348.93,424.64 349.3,429.7 C349.68,434.75 350.35,443.51 350.8,448.1 C351.25,452.69 351.84,457.8 352.3,460.3 C352.76,462.81 353.34,464.1 353.9,464.8 C354.45,465.5 353.74,464.97 356,465 C358.26,465.03 367.05,465 369,465" fill="none" stroke="#7a7a7a" stroke-width="1.45" stroke-dasharray="2.8,1.7" stroke-linejoin="round"/>
<line x1="301.3" y1="398.1" x2="313.6" y2="398.1" stroke="#7a7a7a" stroke-width="1.4" stroke-dasharray="3.2,1.8" />
<text x="316.6" y="400.4" font-size="7" text-anchor="start" fill="#222" class="sm" textLength="19" lengthAdjust="spacingAndGlyphs">vehicle</text>
<line x1="301.3" y1="408.4" x2="313.6" y2="408.4" stroke="#111" stroke-width="1.7" />
<text x="316.6" y="410.7" font-size="7" text-anchor="start" fill="#222" class="sm" textLength="12.8" lengthAdjust="spacingAndGlyphs">TAM</text>
<text transform="translate(274,429.8) rotate(-90)" x="0" y="0" font-size="10.2" text-anchor="middle" fill="#161616" class="md">% of max</text>
<line x1="296" y1="481.9" x2="369.5" y2="481.9" stroke="#161616" stroke-width="1.45" />
<path d="M374.3,481.9 L368.1,478.8 L368.1,485 Z" fill="#111"/>
<text x="333.2" y="495.6" font-size="10.4" text-anchor="middle" fill="#161616" textLength="72" lengthAdjust="spacingAndGlyphs">CellRox DeepRed</text>
</svg>
</body></html>
